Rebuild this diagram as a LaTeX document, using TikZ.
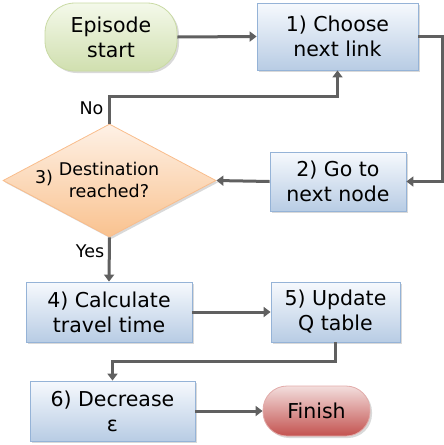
\documentclass[tikz,border=0pt]{standalone}
\usepackage{fontspec}
\setmainfont{DejaVu Sans}
\usetikzlibrary{shapes.geometric,arrows.meta,shadows}
\definecolor{linec}{HTML}{606060}
\definecolor{boxtop}{HTML}{F6F9FD}
\definecolor{boxbot}{HTML}{B8CCE4}
\definecolor{boxedge}{HTML}{95B3D7}
\definecolor{gtop}{HTML}{F4F9EA}
\definecolor{gbot}{HTML}{D0DFAF}
\definecolor{gedge}{HTML}{C9DAA4}
\definecolor{otop}{HTML}{FEF1E6}
\definecolor{obot}{HTML}{F9C28F}
\definecolor{oedge}{HTML}{F9BD8C}
\definecolor{rtop}{HTML}{F3DEDD}
\definecolor{rbot}{HTML}{C3524F}
\definecolor{redge}{HTML}{E2ABA9}
\tikzset{
  shad/.style={drop shadow={opacity=0.25,shadow xshift=2pt,shadow yshift=-2pt,fill=black!60}},
  procbox/.style={draw=boxedge,line width=0.8pt,top color=boxtop,bottom color=boxbot,
    shad,inner sep=0pt,align=center,font=\fontsize{20.5}{25}\selectfont},
  termg/.style={draw=gedge,line width=0.8pt,top color=gtop,bottom color=gbot,rounded corners=30pt,
    shad,inner sep=0pt,align=center,font=\fontsize{20.5}{25}\selectfont},
  termr/.style={draw=redge,line width=0.8pt,top color=rtop,bottom color=rbot,rounded corners=24pt,
    shad,inner sep=0pt,align=center,font=\fontsize{20.5}{25}\selectfont},
  decis/.style={diamond,draw=oedge,line width=0.8pt,top color=otop,bottom color=obot,
    inner sep=0pt,shad},
  conn/.style={draw=linec,line width=3pt,-{Triangle[length=7pt,width=10pt]}},
  lab/.style={font=\fontsize{17.5}{22}\selectfont,align=center,inner sep=0pt},
}
\begin{document}
\begin{tikzpicture}[x=1pt,y=-1pt]
\useasboundingbox (0,0) rectangle (444,445);
\node[termg,minimum width=132pt,minimum height=68pt] (es) at (111,37) {Episode\\start};
\node[procbox,minimum width=161pt,minimum height=67pt] (b1) at (337.5,36.5) {1) Choose\\next link};
\node[procbox,minimum width=136pt,minimum height=59pt] (b2) at (338,181.5) {2) Go to\\next node};
\node[decis,minimum width=213pt,minimum height=113pt] (dia) at (109.5,180.5) {};
\node[lab] (dtxt) at (109,180) {Destination\\reached?};
\node[lab] (d3) at (44,178) {3)};
\node[procbox,minimum width=166pt,minimum height=60pt] (b4) at (109,312) {4) Calculate\\travel time};
\node[procbox,minimum width=129pt,minimum height=60pt] (b5) at (335.5,312) {5) Update\\Q table};
\node[procbox,minimum width=165pt,minimum height=60pt] (b6) at (112.5,411) {6) Decrease\\ε};
\node[termr,minimum width=107pt,minimum height=50pt] (fin) at (316.5,411) {Finish};
\node[lab] (lno) at (91.5,108) {No};
\node[lab] (lyes) at (90,251) {Yes};

\draw[conn] (es.east) -- (b1.west);
\draw[conn] (b1.east) -- ++(24,0) |- (b2.east);
\draw[conn] (b2.west) -- (dia.east);
\draw[conn] (dia.north) -- ++(0,-27) -| (b1.south);
\draw[conn] (dia.south) -- (b4.north);
\draw[conn] (b4.east) -- (b5.west);
\draw[conn] (b5.south) -- ++(0,19) -| (b6.north);
\draw[conn] (b6.east) -- (fin.west);
\end{tikzpicture}
\end{document}
